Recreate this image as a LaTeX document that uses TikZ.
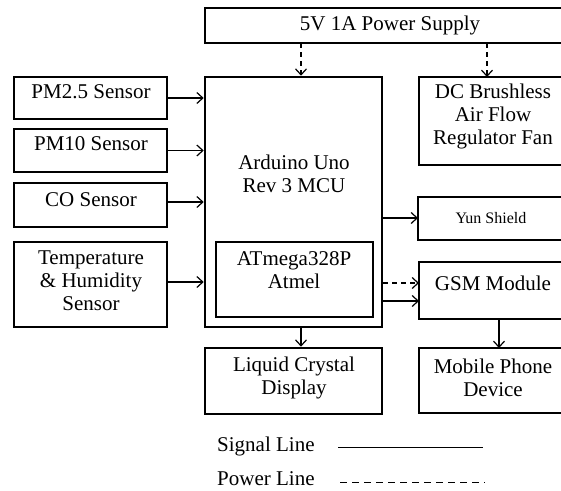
\documentclass[tikz,border=0pt]{standalone}
\usepackage{fontspec}
\setmainfont{Liberation Serif}
\usetikzlibrary{arrows.meta}
\begin{document}
\begin{tikzpicture}[x=1pt,y=-1pt,
  box/.style={draw, line width=2.6pt},
  sig/.style={-{Straight Barb[length=6pt,width=11pt,line width=1.2pt]}, line width=1.2pt},
  pwrline/.style={sig, dash pattern=on 5pt off 4pt},
  txt/.style={font=\fontsize{21}{23}\selectfont, align=center, inner sep=0pt},
  small/.style={font=\fontsize{16}{18}\selectfont, inner sep=0pt}]
\useasboundingbox (0,0) rectangle (561,490);
% boxes
\draw[box] (205,8) rectangle (575,43);   \node[coordinate] (ps) at (390,43) {};
\node[box, minimum width=153pt, minimum height=42pt, inner sep=0pt] (pm25) at (90.5,98) {};
\node[box, minimum width=153pt, minimum height=43pt, inner sep=0pt] (pm10) at (90.5,150.5) {};
\node[box, minimum width=153pt, minimum height=44pt, inner sep=0pt] (co) at (90.5,205) {};
\node[box, minimum width=153pt, minimum height=85pt, inner sep=0pt] (temp) at (90.5,284.5) {};
\node[box, minimum width=177pt, minimum height=250pt, inner sep=0pt] (ard) at (293.5,202) {};
\node[box, minimum width=157pt, minimum height=75pt, inner sep=0pt] (atm) at (294.5,279.5) {};
\node[box, minimum width=177pt, minimum height=66pt, inner sep=0pt] (lcd) at (293.5,381) {};
\draw[box] (419,77) rectangle (575,165);
\draw[box] (418,197) rectangle (575,240);
\draw[box] (419,262) rectangle (575,319);
\draw[box] (419,348) rectangle (575,413);
\coordinate (dcN) at (487,77);
\coordinate (yunW) at (418,218);
\coordinate (gsmW1) at (419,283);
\coordinate (gsmW2) at (419,301);
\coordinate (gsmS) at (499,319);
\coordinate (mobN) at (499,348);
\coordinate (p1) at (301,0);
\coordinate (coE) at (167,202);
\coordinate (tempE) at (167,282);
% texts
\node[txt] (tps) at (390,25) {5V 1A Power Supply};
\node[txt] (tpm25) at (91,92) {PM2.5 Sensor};
\node[txt] (tpm10) at (91,144) {PM10 Sensor};
\node[txt] (tco) at (91,200) {CO Sensor};
\node[txt] (ttemp) at (91,281) {Temperature\\\& Humidity\\Sensor};
\node[txt] (tard) at (294,174) {Arduino Uno\\Rev 3 MCU};
\node[txt] (tatm) at (294,270) {ATmega328P\\Atmel};
\node[txt] (tdc) at (493,116) {DC Brushless\\Air Flow\\Regulator Fan};
\node[small] (tyun) at (491,218) {Yun Shield};
\node[txt] (tgsm) at (493,283) {GSM Module};
\node[txt] (tmob) at (493,378) {Mobile Phone\\Device};
\node[txt] (tlcd) at (294,378) {Liquid Crystal\\Display};
% connectors
\draw[sig] (pm25.east) -- (ard.west |- pm25.east);
\draw[sig] (pm10.east) -- (ard.west |- pm10.east);
\draw[sig] (coE) -- (ard.west |- coE);
\draw[sig] (tempE) -- (ard.west |- tempE);
\draw[pwrline] (ps -| p1) -- (ard.north -| p1);
\draw[pwrline] (ps -| dcN) -- (dcN);
\draw[sig] (ard.east |- yunW) -- (yunW);
\draw[pwrline] (ard.east |- gsmW1) -- (gsmW1);
\draw[sig] (ard.east |- gsmW2) -- (gsmW2);
\draw[sig] (ard.south -| p1) -- (lcd.north -| p1);
\draw[sig] (gsmS) -- (mobN);
% legend
\node[txt, anchor=west] (lsig) at (217,446) {Signal Line};
\node[txt, anchor=west] (lpow) at (217,479) {Power Line};
\coordinate (ls1) at (338,447); \coordinate (ls2) at (483,447);
\coordinate (lp1) at (340,482); \coordinate (lp2) at (485,482);
\draw[line width=1pt] (ls1) -- (ls2);
\draw[line width=1pt, dash pattern=on 7pt off 5pt] (lp1) -- (lp2);
\end{tikzpicture}
\end{document}
